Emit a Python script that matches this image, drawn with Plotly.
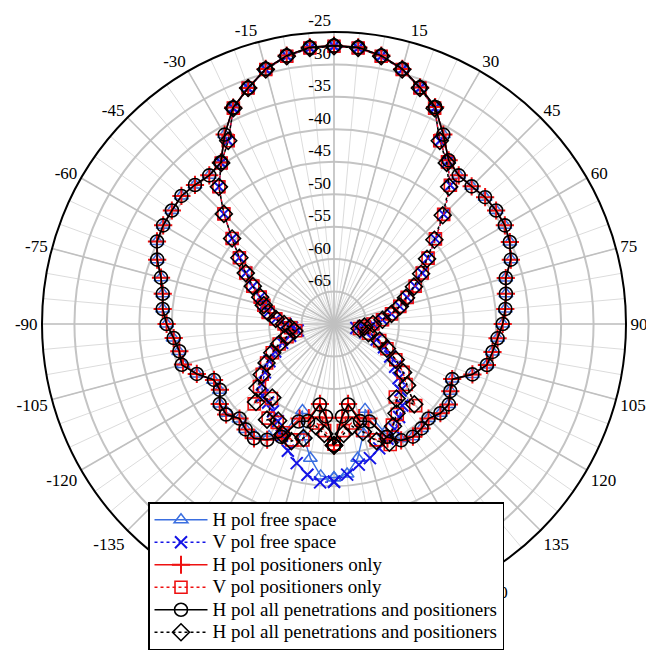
import plotly.graph_objects as go

# Angles (degrees), 0 at top, clockwise positive
angles = list(range(-180, 185, 5))

# Received level (dB) per series, angles -180 ... 180 step 5
h_free = [-46.3, -46.5, -49.0, -52.0, -55.8, -51.5, -50.0, -48.9, -48.8, -49.3, -48.6, -48.5, -49.6, -49.5, -47.5, -45.9,
          -45.7, -45.1, -44.2, -43.5, -43.2, -42.4, -41.0, -39.9, -39.6, -39.5, -39.3, -39.7, -40.1, -39.6, -36.3,
          -33.2, -31.3, -29.3, -28.0, -27.2, -27.1, -27.2, -28.0, -29.3, -31.2, -33.1, -36.3, -39.2, -40.1, -40.0,
          -39.6, -39.5, -39.6, -40.1, -41.0, -42.6, -43.1, -43.5, -44.0, -44.7, -45.2, -45.6, -47.3, -49.9, -49.3,
          -48.4, -48.6, -49.4, -49.0, -48.8, -49.6, -51.5, -56.0, -52.5, -49.0, -46.8, -46.3]
v_free = [-45.7, -45.5, -46.4, -47.8, -49.2, -51.0, -52.7, -53.6, -54.2, -54.4, -55.5, -57.0, -58.5, -60.0, -61.5, -63.0,
          -64.3, -63.5, -62.5, -61.0, -59.7, -58.8, -57.9, -56.2, -54.3, -52.2, -49.5, -46.0, -42.4, -39.7, -37.4,
          -33.3, -31.3, -29.4, -28.1, -27.3, -27.2, -27.3, -28.1, -29.4, -31.3, -33.3, -37.4, -39.5, -42.1, -46.1,
          -49.6, -52.3, -54.3, -56.2, -58.0, -59.5, -61.0, -62.5, -64.0, -65.5, -66.5, -65.0, -63.0, -61.5, -60.0,
          -58.5, -57.0, -55.5, -53.6, -52.5, -51.3, -50.5, -49.6, -48.6, -48.0, -46.7, -45.7]
h_pos = [-51.3, -55.5, -57.5, -55.0, -54.5, -51.0, -49.4, -48.5, -48.8, -49.4, -48.3, -48.5, -49.7, -49.6, -47.5, -45.9,
         -45.8, -45.2, -44.2, -43.5, -43.2, -42.4, -41.0, -39.9, -39.6, -39.5, -39.3, -39.7, -40.1, -39.6, -36.3,
         -33.2, -31.3, -29.3, -28.0, -27.2, -27.1, -27.2, -28.0, -29.3, -31.2, -33.1, -36.3, -39.2, -40.1, -40.0,
         -39.6, -39.5, -39.6, -40.1, -41.0, -42.6, -43.1, -43.5, -44.0, -44.7, -45.2, -45.6, -47.3, -49.9, -49.3,
         -48.4, -48.6, -49.4, -49.0, -48.8, -49.3, -50.5, -54.5, -55.0, -57.5, -55.5, -51.3]
v_pos = [-51.5, -53.5, -54.5, -51.5, -51.0, -51.5, -52.5, -52.3, -55.0, -52.6, -55.0, -56.5, -58.0, -59.5, -61.0, -62.5,
         -64.0, -63.3, -62.3, -61.0, -59.7, -58.8, -57.9, -56.2, -54.3, -52.2, -49.5, -46.0, -42.4, -39.7, -37.4,
         -33.3, -31.3, -29.4, -28.1, -27.3, -27.2, -27.3, -28.1, -29.4, -31.3, -33.3, -37.4, -39.5, -42.1, -46.1,
         -49.6, -52.3, -54.3, -56.2, -58.0, -59.5, -61.0, -62.5, -64.0, -65.3, -66.0, -64.5, -62.5, -61.0, -59.0,
         -57.0, -55.5, -52.2, -55.3, -53.0, -52.0, -49.5, -51.0, -53.0, -54.5, -53.5, -51.5]
h_all = [-51.3, -55.7, -57.4, -54.5, -54.0, -50.8, -49.4, -48.5, -48.8, -49.4, -48.3, -48.5, -49.7, -49.6, -47.5, -45.7,
         -45.8, -45.2, -44.2, -43.5, -43.2, -42.4, -41.0, -39.9, -39.6, -39.5, -39.3, -39.7, -40.1, -39.6, -36.3,
         -33.2, -31.3, -29.3, -28.0, -27.2, -27.1, -27.2, -28.0, -29.3, -31.2, -33.1, -36.3, -39.2, -40.1, -40.0,
         -39.6, -39.5, -39.6, -40.1, -41.0, -42.6, -43.1, -43.5, -44.0, -44.7, -45.2, -45.6, -47.3, -49.9, -49.3,
         -48.4, -48.6, -49.4, -49.0, -48.8, -49.3, -50.8, -54.0, -54.5, -57.4, -55.7, -51.3]
v_all = [-51.3, -53.0, -54.0, -51.8, -50.8, -51.2, -52.8, -52.0, -55.2, -53.0, -54.6, -56.4, -58.0, -59.5, -61.0, -62.5,
         -63.8, -63.3, -62.3, -61.0, -59.7, -58.8, -57.9, -56.2, -54.3, -52.2, -49.5, -46.0, -42.4, -39.7, -37.4,
         -33.3, -31.3, -29.4, -28.1, -27.3, -27.2, -27.3, -28.1, -29.4, -31.3, -33.3, -37.4, -39.7, -42.4, -46.3,
         -49.8, -52.5, -54.5, -56.4, -58.2, -59.5, -61.0, -62.5, -64.0, -65.3, -66.0, -64.5, -62.5, -61.0, -59.0,
         -57.0, -55.3, -52.5, -55.0, -53.2, -51.8, -49.8, -50.8, -52.8, -54.0, -53.0, -51.3]

series_names = ["H pol free space", "V pol free space", "H pol positioners only",
                "V pol positioners only", "H pol all penetrations and positioners",
                "H pol all penetrations and positioners"]

radial_ticks = [-65, -60, -55, -50, -45, -40, -35, -30, -25]
angular_label_vals = [-165, -150, -135, -120, -105, -90, -75, -60, -45, -30, -15,
                      15, 30, 45, 60, 75, 90, 105, 120, 135, 150, 165, 180]

R_MIN, R_MAX = -70, -25
SERIF = "Liberation Serif, Times New Roman, serif"
NB = "\u00a0"

fig = go.Figure()

# heavier spokes every 15 degrees (grid decoration)
for a in range(0, 360, 15):
    fig.add_trace(go.Scatterpolar(r=[R_MIN, R_MAX], theta=[a, a], mode="lines",
                                  line=dict(color="#c0c0c0", width=1.6),
                                  showlegend=False, hoverinfo="skip"))

styles = [
    (h_free, dict(color="#3a6ee0", width=1.4), dict(symbol="triangle-up-open", size=12,
                                                    color="#3a6ee0", line=dict(width=1.5, color="#3a6ee0"))),
    (v_free, dict(color="#1414e6", width=1.4, dash="3px,3px"), dict(symbol="x-thin-open", size=12,
                                                                   color="#1414e6", line=dict(width=2, color="#1414e6"))),
    (h_pos, dict(color="#ee1111", width=1.6), dict(symbol="cross-thin-open", size=13,
                                                   color="#ee1111", line=dict(width=2, color="#ee1111"))),
    (v_pos, dict(color="#ee1111", width=1.4, dash="3px,3px"), dict(symbol="square-open", size=12,
                                                                  color="#ee1111", line=dict(width=1.6, color="#ee1111"))),
    (h_all, dict(color="#000000", width=1.6), dict(symbol="circle-open", size=13,
                                                   color="#000000", line=dict(width=1.6, color="#000000"))),
    (v_all, dict(color="#000000", width=1.6, dash="3px,3px"), dict(symbol="diamond-open", size=13,
                                                                  color="#000000", line=dict(width=1.6, color="#000000"))),
]

for name, (vals, ln, mk) in zip(series_names, styles):
    fig.add_trace(go.Scatterpolar(r=vals, theta=angles, mode="lines+markers",
                                  name='<span style="font-size:19px">' + name + '</span>',
                                  line=ln, marker=mk))

# grid every 5 degrees, labels only every 15 degrees (shown as -180..180)
grid_vals = list(range(0, 360, 5))
grid_text = []
for v in grid_vals:
    signed = v - 360 if v > 180 else v
    grid_text.append(str(signed) if signed in angular_label_vals else "")

# radial labels sit just above their ring
radial_text = [str(v) + "<br>" + NB for v in radial_ticks]

# page body has an 8px margin: lay out in figure pixels (window - 8)
CX, CY, RAD = 326, 316, 292
W, H = 654, 655

fig.update_layout(
    width=W, height=H,
    margin=dict(l=0, r=0, t=0, b=0),
    paper_bgcolor="white",
    font=dict(family=SERIF, size=17, color="black"),
    polar=dict(
        domain=dict(x=[(CX - RAD) / W, (CX + RAD) / W], y=[1 - (CY + RAD) / H, 1 - (CY - RAD) / H]),
        bgcolor="white",
        radialaxis=dict(range=[R_MIN, R_MAX], tickvals=radial_ticks,
                        ticktext=radial_text,
                        showline=False, ticks="", angle=90, tickangle=90,
                        side="counterclockwise",
                        gridcolor="#c4c4c4", gridwidth=1.5,
                        tickfont=dict(family=SERIF, size=17, color="black")),
        angularaxis=dict(rotation=90, direction="clockwise", thetaunit="degrees",
                         tickvals=grid_vals, ticktext=grid_text, ticks="",
                         showline=True, linecolor="black", linewidth=2,
                         gridcolor="#dcdcdc", gridwidth=1,
                         tickfont=dict(family=SERIF, size=17, color="black")),
    ),
    legend=dict(x=140 / W, y=1 - 494 / H, xanchor="left", yanchor="top",
                bgcolor="white", bordercolor="black", borderwidth=1.5,
                font=dict(family=SERIF, size=15, color="black"),
                tracegroupgap=0, itemwidth=53),
    showlegend=True,
)

fig.write_html("out.html")
